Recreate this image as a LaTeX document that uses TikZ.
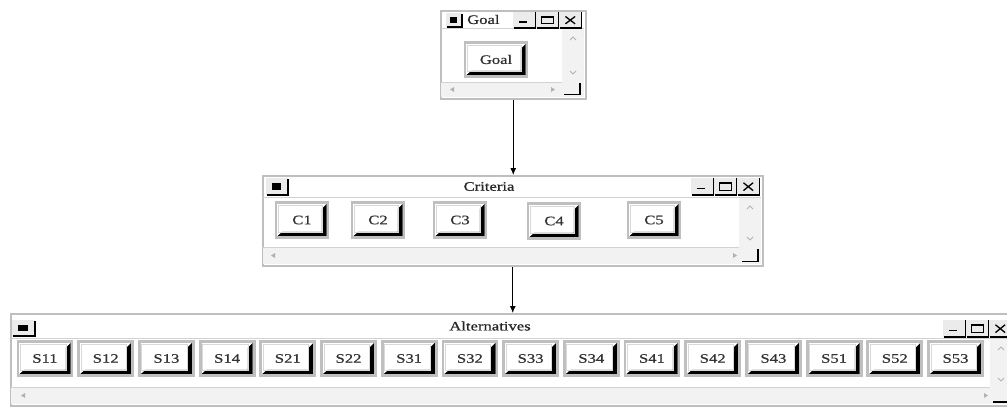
\documentclass[tikz,border=0pt]{standalone}
\usepackage{fontspec}
\setmainfont{Liberation Serif}
\newfontfamily\winfont[FakeStretch=1.28,FakeBold=0.6]{Liberation Serif}
\usetikzlibrary{calc,arrows.meta}

\tikzset{
  win/.style={rectangle, draw=gray!50, line width=1.5pt, fill=white, inner sep=0pt, anchor=north west},
  ttl/.style={inner sep=0pt, font=\winfont\fontsize{13}{13}\selectfont, text=black!85},
  sep/.style={draw=gray!35, line width=0.8pt},
  scr/.style={fill=gray!10},
  glyph/.style={draw=gray!60, line width=0.9pt},
  grip/.style={draw=black, line width=1.4pt},
  arr/.style={draw=black, line width=1pt, -{Latex[length=7pt,width=6pt]}},
  btn/.style={rectangle, inner sep=0pt, fill=white, draw=gray!50, line width=2.8pt,
    font=\winfont\fontsize{13}{13}\selectfont, text=black!80,
    path picture={
      \fill[black]
        ($(path picture bounding box.north east)+(-1.4pt,-1.4pt)$) --
        ($(path picture bounding box.south east)+(-1.4pt,1.4pt)$) --
        ($(path picture bounding box.south west)+(1.4pt,1.4pt)$) --
        ($(path picture bounding box.south west)+(6.2pt,5.6pt)$) --
        ($(path picture bounding box.south east)+(-6.2pt,5.6pt)$) --
        ($(path picture bounding box.north east)+(-6.2pt,-6.2pt)$) -- cycle;
      \draw[gray!30, line width=0.6pt]
        ($(path picture bounding box.north west)+(2.3pt,-2.3pt)$) rectangle
        ($(path picture bounding box.south east)+(-6.2pt,5.6pt)$);
    }},
}

% window control buttons: x, y, box width, box height
\newcommand{\wctrls}[4]{%
  \foreach \k in {0,1,2} {
    \fill[gray!16] ({#1+\k*#3},#2) rectangle ({#1+(\k+1)*#3},{#2+#4});
    \draw[black, line width=1.3pt] ({#1+\k*#3+1},{#2+#4}) -- ({#1+(\k+1)*#3-0.6},{#2+#4}) -- ({#1+(\k+1)*#3-0.6},{#2});
  }
  \draw[black, line width=1.8pt] ({#1+0.28*#3},{#2+0.62*#4}) -- ({#1+0.62*#3},{#2+0.62*#4});
  \draw[black, line width=0.9pt] ({#1+1.22*#3},{#2+0.28*#4}) rectangle ({#1+1.74*#3},{#2+0.74*#4});
  \draw[black, line width=1.6pt] ({#1+1.22*#3},{#2+0.32*#4}) -- ({#1+1.74*#3},{#2+0.32*#4});
  \draw[black, line width=1.3pt] ({#1+2.28*#3},{#2+0.28*#4}) -- ({#1+2.70*#3},{#2+0.74*#4})
                                 ({#1+2.28*#3},{#2+0.74*#4}) -- ({#1+2.70*#3},{#2+0.28*#4});
}
% title icon: x1,y1,x2,y2
\newcommand{\wicon}[4]{%
  \fill[gray!16] (#1,#2) rectangle (#3,#4);
  \draw[black, line width=1.3pt] ({#1+1},#4) -- (#3,#4) -- (#3,{#2+1});
  \fill[black] ({#1+0.28*(#3-#1)},{#2+0.3*(#4-#2)}) rectangle ({#1+0.68*(#3-#1)},{#2+0.7*(#4-#2)});
}
% scrollbar arrow glyphs
\newcommand{\upglyph}[2]{\draw[glyph] ({#1-3},{#2+2}) -- (#1,{#2-1}) -- ({#1+3},{#2+2});}
\newcommand{\dnglyph}[2]{\draw[glyph] ({#1-3},{#2-1}) -- (#1,{#2+2}) -- ({#1+3},{#2-1});}
\newcommand{\lfglyph}[2]{\fill[gray!60] ({#1-2},#2) -- ({#1+2},{#2-2.5}) -- ({#1+2},{#2+2.5}) -- cycle;}
\newcommand{\rtglyph}[2]{\fill[gray!60] ({#1+2},#2) -- ({#1-2},{#2-2.5}) -- ({#1-2},{#2+2.5}) -- cycle;}

\begin{document}
\begin{tikzpicture}[x=1pt, y=-1pt]
\useasboundingbox (0,0) rectangle (1007,407);
\fill[white] (0,0) rectangle (1007,407);
\clip (0,0) rectangle (1007,407);

% ---------------- Goal window ----------------
\node[win, minimum width=145pt, minimum height=88pt] (goalwin) at (440,10) {};
\draw[sep] (441,28) -- (584,28);
\wicon{446}{13}{462}{27}
\node[ttl, anchor=west] (goalttl) at (467,19.5) {Goal};
\wctrls{513}{12}{23}{16}
\fill[scr] (562,28.5) rectangle (584,82);
\upglyph{573}{38}
\dnglyph{573}{72}
\fill[scr] (441,82) rectangle (584,97);
\draw[sep] (441,82) -- (562,82);
\lfglyph{452}{89.5}
\rtglyph{553}{89.5}
\draw[grip] (564,94.5) -- (580,94.5) -- (580,83);
\node[btn, minimum width=62pt, minimum height=34pt] (goal) at (496,59.5) {Goal};

% ---------------- Criteria window ----------------
\node[win, minimum width=500pt, minimum height=90pt] (critwin) at (262,175) {};
\draw[sep] (263,197) -- (761,197);
\wicon{266}{178}{288}{195}
\node[ttl] (critttl) at (489,186.5) {Criteria};
\wctrls{691}{178}{23}{17}
\fill[scr] (739,197.5) rectangle (761,247);
\upglyph{750}{207}
\dnglyph{750}{238}
\fill[scr] (263,247) rectangle (761,264);
\draw[sep] (263,247) -- (739,247);
\lfglyph{273}{255.5}
\rtglyph{735}{255.5}
\draw[grip] (742,261.5) -- (758,261.5) -- (758,249);
\node[btn, minimum width=52pt, minimum height=35pt] (c1) at (302,220) {C1};
\node[btn, minimum width=52pt, minimum height=35pt] (c2) at (378,220) {C2};
\node[btn, minimum width=52pt, minimum height=35pt] (c3) at (460,220) {C3};
\node[btn, minimum width=52pt, minimum height=35pt] (c4) at (554,221) {C4};
\node[btn, minimum width=52pt, minimum height=35pt] (c5) at (654,220) {C5};

% ---------------- Alternatives window ----------------
\node[win, minimum width=1004pt, minimum height=92pt] (altwin) at (10,313) {};
\draw[sep] (11,338) -- (1013,338);
\wicon{12}{320}{35}{336}
\node[ttl] (altttl) at (490,326) {Alternatives};
\wctrls{943}{320}{23}{17}
\fill[scr] (990,338.5) rectangle (1013,387);
\upglyph{1001}{348}
\dnglyph{1001}{379}
\fill[scr] (11,387) rectangle (1013,404);
\draw[sep] (11,387) -- (990,387);
\lfglyph{23}{395.5}
\rtglyph{986}{395.5}
\draw[grip] (993,402) -- (1010,402);
\foreach \lab [count=\i from 0] in {S11,S12,S13,S14,S21,S22,S31,S32,S33,S34,S41,S42,S43,S51,S52,S53} {
  \node[btn, minimum width=54pt, minimum height=34pt] (\lab) at ({45+60.7*\i},358.5) {\lab};
}

% ---------------- connectors ----------------
\draw[arr] (goalwin.south) -- (goalwin.south |- critwin.north);
\draw[arr] (critwin.south) -- (critwin.south |- altwin.north);
\end{tikzpicture}
\end{document}
